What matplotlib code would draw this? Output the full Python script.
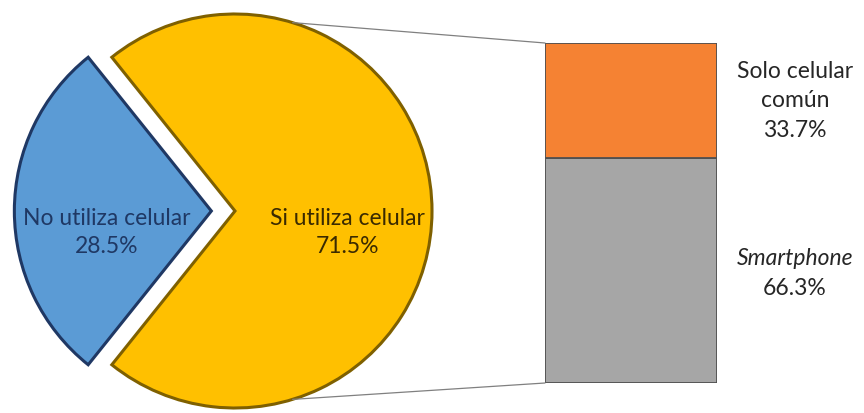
import numpy as np
import matplotlib.pyplot as plt
from matplotlib.patches import ConnectionPatch

# data
pie_labels = ["No utiliza celular", "Si utiliza celular"]
pie_values = [28.5, 71.5]
pie_colors = ["#5B9BD5", "#FFC000"]
pie_edges = ["#1F3864", "#7F6000"]
pie_text_colors = ["#1F3864", "#3A2A00"]

bar_labels = ["Smartphone", "Solo celular\ncomún"]
bar_values = [66.3, 33.7]
bar_colors = ["#A6A6A6", "#F58233"]

plt.rcParams["font.family"] = ["Lato", "DejaVu Sans"]

W, H = 864, 413
fig = plt.figure(figsize=(W / 100, H / 100), dpi=100)

# pie axes: center (235, 211) px from top-left, radius 197 px
R = 197.0
cx, cy = 235.0, 211.0
xl, xr, yb, yt = -1.15, 1.05, -1.05, 1.05
ax_pie = fig.add_axes([(cx + xl * R) / W, (H - cy + yb * R) / H,
                       (xr - xl) * R / W, (yt - yb) * R / H])
start = 180 - pie_values[0] * 3.6 / 2
wedges, _ = ax_pie.pie(pie_values, colors=pie_colors, explode=[0.12, 0],
                       startangle=start, radius=1.0,
                       wedgeprops=dict(linewidth=2.2))
for w, ec in zip(wedges, pie_edges):
    w.set_edgecolor(ec)
ax_pie.set_xlim(xl, xr)
ax_pie.set_ylim(yb, yt)
ax_pie.set_aspect("auto")

pie_pos = [(-0.65, -0.11), (0.57, -0.11)]
for (x, y), lab, v, c in zip(pie_pos, pie_labels, pie_values, pie_text_colors):
    ax_pie.text(x, y, f"{lab}\n{v:.1f}%", ha="center", va="center",
                fontsize=16.5, color=c, linespacing=1.45)

# bar axes
bl, br, bt, bb = 545, 717, 43, 383
ax_bar = fig.add_axes([bl / W, (H - bb) / H, (br - bl) / W, (bb - bt) / H])
bottom = 0
for v, c in zip(bar_values, bar_colors):
    ax_bar.bar(0, v, width=1.0, bottom=bottom, color=c,
               edgecolor="#505050", linewidth=1.3)
    bottom += v
ax_bar.set_xlim(-0.5, 0.5)
ax_bar.set_ylim(0, 100)
ax_bar.axis("off")

lx = (795 - bl) / (br - bl) - 0.5
ax_bar.text(lx, 36.5, bar_labels[0], ha="center", va="center", style="italic",
            fontsize=16.5, color="#262626", clip_on=False)
ax_bar.text(lx, 36.5 - 8.8, f"{bar_values[0]:.1f}%", ha="center", va="center",
            fontsize=16.5, color="#262626", clip_on=False)
ax_bar.text(lx, 83.0, f"{bar_labels[1]}\n{bar_values[1]:.1f}%", ha="center",
            va="center", fontsize=16.5, color="#262626", linespacing=1.5,
            clip_on=False)

# connector lines
ang = np.deg2rad(73)
for sgn, yb_ in [(1, 100), (-1, 0)]:
    con = ConnectionPatch(xyA=(np.cos(ang), sgn * np.sin(ang)), coordsA=ax_pie.transData,
                          xyB=(-0.5, yb_), coordsB=ax_bar.transData,
                          color="#808080", linewidth=0.9)
    fig.add_artist(con)

fig.savefig("out.png", dpi=100)
